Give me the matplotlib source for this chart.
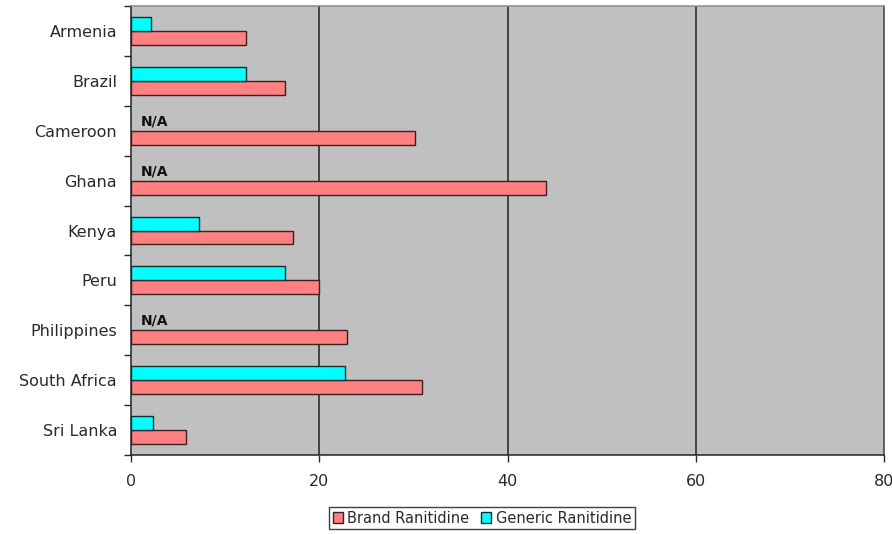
import matplotlib
matplotlib.use("Agg")
import matplotlib.pyplot as plt
import numpy as np
from matplotlib.patches import Patch

countries = ["Armenia", "Brazil", "Cameroon", "Ghana", "Kenya", "Peru",
             "Philippines", "South Africa", "Sri Lanka"]
brand = [12.2, 16.4, 30.2, 44.1, 17.2, 20.0, 23.0, 30.9, 5.8]
generic = [2.1, 12.2, None, None, 7.2, 16.4, None, 22.7, 2.3]
x_ticks = [0, 20, 40, 60, 80]
x_tick_labels = ["0", "20", "40", "60", "80"]

BRAND_COLOR = "#FF8080"
GENERIC_COLOR = "#00FFFF"
EDGE = "#3a2020"

plt.rcParams["font.family"] = ["DejaVu Sans"]

fig = plt.figure(figsize=(8.92, 5.34), dpi=100)
ax = fig.add_axes([131 / 892, 1 - 455 / 534, (884 - 131) / 892, (455 - 6) / 534])
ax.set_facecolor("#C0C0C0")

y = np.arange(len(countries))
h = 0.28

gen_vals = [g if g is not None else 0 for g in generic]
gen_mask = [g is not None for g in generic]

ax.barh(y + h / 2, brand, height=h, color=BRAND_COLOR, edgecolor=EDGE,
        linewidth=1.0, zorder=3)
ax.barh(y[gen_mask] - h / 2, np.array(gen_vals)[gen_mask], height=h,
        color=GENERIC_COLOR, edgecolor="#103030", linewidth=1.0, zorder=3)

for yi, g in zip(y, generic):
    if g is None:
        ax.text(1.0, yi - h / 2 - 0.05, "N/A", fontsize=10, fontweight="bold",
                ha="left", va="center", color="#111111", zorder=4)

ax.set_xlim(0, 80)
ax.set_ylim(len(countries) - 0.5, -0.5)

ax.set_xticks(x_ticks)
ax.set_xticklabels(x_tick_labels)
ax.set_yticks(y)
ax.set_yticklabels(countries)
ax.set_yticks(np.arange(len(countries) + 1) - 0.5, minor=True)

ax.tick_params(axis="y", which="major", length=0, pad=10, labelsize=11.5,
               colors="#2a2a2a")
ax.tick_params(axis="y", which="minor", length=5, width=1, color="#222222",
               direction="out")
ax.tick_params(axis="x", which="major", length=5, width=1, pad=9,
               labelsize=11.5, colors="#2a2a2a", direction="out")

for v in x_ticks[1:-1]:
    ax.axvline(v, color="#222222", linewidth=1.1, zorder=2)

ax.spines["left"].set_color("#222222")
ax.spines["bottom"].set_color("#222222")
ax.spines["top"].set_color("#8a8a8a")
ax.spines["right"].set_color("#404040")
for s in ax.spines.values():
    s.set_linewidth(1.1)
    s.set_zorder(5)

handles = [Patch(facecolor=BRAND_COLOR, edgecolor=EDGE, label="Brand Ranitidine"),
           Patch(facecolor=GENERIC_COLOR, edgecolor="#103030", label="Generic Ranitidine")]
leg = fig.legend(handles=handles, loc="upper center",
                 bbox_to_anchor=(482 / 892, 1 - 507 / 534), ncol=2,
                 fontsize=10.5, frameon=True, fancybox=False, shadow=False,
                 handlelength=0.7, handleheight=0.7, handletextpad=0.3,
                 columnspacing=0.8, borderpad=0.25, borderaxespad=0)
leg.get_frame().set_edgecolor("#111111")
leg.get_frame().set_linewidth(1.0)
for t in leg.get_texts():
    t.set_color("#2a2a2a")

fig.savefig("out.png", dpi=100, facecolor="white")
